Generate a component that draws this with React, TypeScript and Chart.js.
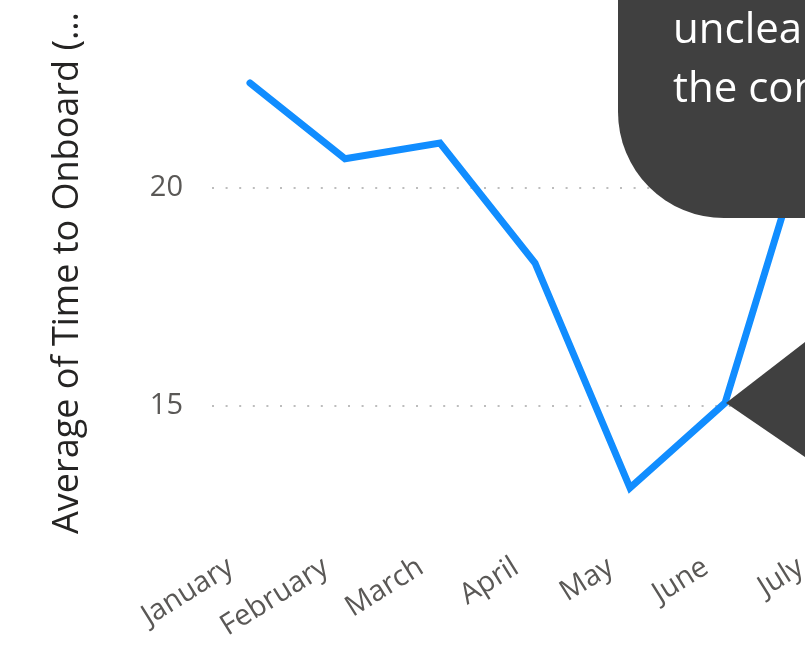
import React, { useEffect, useRef } from "react";
import { Chart, registerables } from "chart.js";

Chart.register(...registerables);

const months = ["January", "February", "March", "April", "May", "June", "July"];
const onboardDays = [22.41, 20.67, 21.03, 18.28, 13.12, 15.07, 22.2];
const yTicks = [15, 20];
const yTitle = "Average of Time to Onboard (…";
const calloutLines = ["unclear", "the con"];

const FAMILY = "'Open Sans', 'Noto Sans', sans-serif";

const calloutPlugin = {
  id: "callout",
  afterDatasetsDraw(chart: any) {
    const ctx = chart.ctx as CanvasRenderingContext2D;
    const xs = chart.scales.x;
    const ys = chart.scales.y;
    ctx.save();
    ctx.fillStyle = "#404040";
    // rounded callout box (extends beyond the visible area)
    const left = 618, bottom = 218, r = 106, top = -300, right = 1400;
    ctx.beginPath();
    ctx.moveTo(left, top);
    ctx.lineTo(left, bottom - r);
    ctx.arcTo(left, bottom, left + r, bottom, r);
    ctx.lineTo(right, bottom);
    ctx.lineTo(right, top);
    ctx.closePath();
    ctx.fill();
    // pointer anchored to the June point
    const px = xs.getPixelForValue(5) + 1;
    const py = ys.getPixelForValue(onboardDays[5]);
    ctx.beginPath();
    ctx.moveTo(px, py);
    ctx.lineTo(px + 250, py - 250 * 0.772);
    ctx.lineTo(px + 250, py + 250 * 0.684);
    ctx.closePath();
    ctx.fill();
    // text
    ctx.fillStyle = "#FFFFFF";
    ctx.font = `42px ${FAMILY}`;
    ctx.textAlign = "left";
    ctx.textBaseline = "alphabetic";
    ctx.fillText(calloutLines[0], 673, 43);
    ctx.fillText(calloutLines[1], 673, 102);
    ctx.restore();
  },
};

export default function App() {
  const ref = useRef<HTMLCanvasElement>(null);
  useEffect(() => {
    const chart = new Chart(ref.current!, {
      type: "line",
      data: {
        datasets: [
          {
            data: onboardDays.map((v, i) => ({ x: i, y: v })),
            borderColor: "#118DFF",
            backgroundColor: "#118DFF",
            borderWidth: 7,
            pointRadius: 0,
            tension: 0,
            borderCapStyle: "round",
            borderJoinStyle: "miter",
          },
        ],
      },
      options: {
        animation: false,
        responsive: false,
        devicePixelRatio: 1,
        layout: { padding: { top: 26, right: 37.5, left: 0, bottom: 0 } },
        plugins: { legend: { display: false }, tooltip: { enabled: false } },
        scales: {
          x: {
            type: "linear",
            min: -0.4,
            max: 7.5,
            grid: { display: false, drawTicks: false },
            border: { display: false },
            afterFit: (s: any) => {
              s.height = 125;
              s.paddingLeft = 0;
              s.paddingRight = 0;
            },
            afterBuildTicks: (s: any) => {
              s.ticks = months.map((_, i) => ({ value: i }));
            },
            ticks: {
              autoSkip: false,
              minRotation: 32,
              maxRotation: 32,
              padding: 30,
              labelOffset: -19,
              color: "#5A5856",
              font: { size: 29, family: FAMILY },
              callback: (v: any) => months[v as number],
            },
          },
          y: {
            min: 12.385,
            max: 23.716,
            grid: { color: "#BDBDBD", lineWidth: 2, drawTicks: false },
            border: { display: false, dash: [2, 11.6] },
            afterFit: (s: any) => {
              s.width = 212;
              s.paddingTop = 0;
              s.paddingBottom = 0;
            },
            afterBuildTicks: (s: any) => {
              s.ticks = yTicks.map((v) => ({ value: v }));
            },
            ticks: {
              padding: 29,
              color: "#5A5856",
              font: { size: 29, family: FAMILY },
            },
            title: {
              display: true,
              text: yTitle,
              color: "#252423",
              font: { size: 36, family: FAMILY },
              padding: { top: 46, bottom: 0 },
            },
          },
        },
      },
      plugins: [calloutPlugin],
    } as any);
    return () => chart.destroy();
  }, []);

  return (
    <div
      style={{
        position: "absolute",
        left: 0,
        top: 0,
        width: 805,
        height: 645,
        overflow: "hidden",
        background: "#FFFFFF",
      }}
    >
      <canvas ref={ref} width={1000} height={645} style={{ display: "block" }} />
    </div>
  );
}
